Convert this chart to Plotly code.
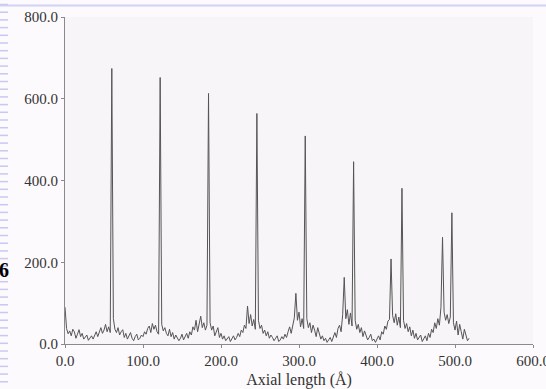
import plotly.graph_objects as go

# Sampling grid of the profile (Å)
axial_length = list(range(0, 520, 2))

# Intensity values
intensity = (
    [90, 38, 25, 32, 20, 36, 30, 14, 24, 35, 18, 26, 12, 16, 22, 9, 14, 20, 12, 24,
     30, 18, 28, 40, 26, 34, 48, 30, 42, 28]
    + [674, 62, 36, 28, 40, 22, 30, 35, 16, 26, 12, 20, 28, 14, 8, 18, 24, 10, 14, 22,
       18, 30, 24, 38, 44, 28, 50, 36, 46, 30, 24]
    + [652, 48, 32, 40, 26, 20, 36, 18, 28, 12, 22, 16, 8, 14, 24, 10, 18, 26, 14, 30,
       22, 42, 34, 58, 30, 48, 68, 40, 52, 34, 46]
    + [613, 52, 34, 44, 20, 30, 40, 16, 26, 12, 20, 8, 14, 18, 6, 12, 20, 10, 16, 26,
       18, 34, 28, 46, 38, 93, 50, 72, 44, 60, 36]
    + [564, 58, 38, 46, 26, 34, 20, 30, 14, 22, 16, 8, 14, 20, 6, 10, 18, 12, 24, 16,
       30, 42, 26, 50, 64, 124, 58, 78, 42, 62, 38]
    + [509, 62, 40, 52, 28, 46, 34, 18, 40, 24, 12, 20, 8, 14, 4, 10, 16, 6, 20, 28,
       16, 38, 46, 30, 72, 163, 62, 84, 48, 76, 44]
    + [446, 58, 36, 48, 28, 40, 18, 32, 22, 10, 16, 24, 8, 12, 4, 14, 20, 10, 30, 24,
       44, 36, 56, 60, 208, 70, 52, 74, 46, 66, 40]
    + [381, 58, 38, 50, 30, 42, 20, 34, 14, 26, 10, 18, 22, 6, 12, 20, 8, 26, 16, 36,
       28, 52, 38, 62, 46, 90, 261, 78, 58, 72, 50, 66]
    + [321, 52, 34, 56, 22, 48, 30, 12, 36, 20, 8, 14]
)

x_ticks = [0, 100, 200, 300, 400, 500, 600]
y_ticks = [0, 200, 400, 600, 800]
x_title = "Axial length (Å)"

W, H = 546, 389
ML, MR, MT, MB = 65, 13, 17, 45
PW, PH = W - ML - MR, H - MT - MB

def px_x(p):
    return (p - ML) / PW

def px_y(p):
    return (H - MB - p) / PH

fig = go.Figure()
fig.add_trace(go.Scatter(
    x=axial_length, y=intensity, mode="lines",
    line=dict(color="#555555", width=1), showlegend=False, hoverinfo="skip",
))

shapes = []
# top slide border line
shapes.append(dict(type="line", xref="paper", yref="paper",
                   x0=px_x(0), x1=px_x(W), y0=px_y(5.5), y1=px_y(5.5),
                   line=dict(color="#d2d2f6", width=2), layer="above"))
# dashed slide edge at left
y = 4.5
while y < H:
    shapes.append(dict(type="line", xref="paper", yref="paper",
                       x0=px_x(0), x1=px_x(8), y0=px_y(y), y1=px_y(y),
                       line=dict(color="#c8c8f0", width=1.5), layer="above"))
    y += 7.7

fig.update_layout(
    width=W, height=H,
    margin=dict(l=ML, r=MR, t=MT, b=MB),
    paper_bgcolor="#fdfafd",
    plot_bgcolor="#f7f5f7",
    font=dict(family="Liberation Serif", size=15, color="#333333"),
    shapes=shapes,
    annotations=[dict(text="<b>6</b>", xref="paper", yref="paper",
                      x=px_x(11), y=px_y(270), xanchor="right", yanchor="middle",
                      showarrow=False, font=dict(size=20, color="#000000"))],
    xaxis=dict(range=[0, 600], tickvals=x_ticks,
               ticktext=[f"{v:.1f}" for v in x_ticks],
               showgrid=False, zeroline=False, showline=True,
               linecolor="#8a8a8a", linewidth=1, ticks="outside", ticklen=3,
               tickcolor="#8a8a8a", automargin=False, ticklabeloverflow="allow",
               title=dict(text=x_title, font=dict(size=16))),
    yaxis=dict(range=[0, 800], tickvals=y_ticks,
               ticktext=[f"{v:.1f}" for v in y_ticks],
               showgrid=False, zeroline=False, showline=True,
               linecolor="#8a8a8a", linewidth=1, ticks="outside", ticklen=3,
               tickcolor="#8a8a8a", automargin=False),
)

fig.write_html("out.html")
